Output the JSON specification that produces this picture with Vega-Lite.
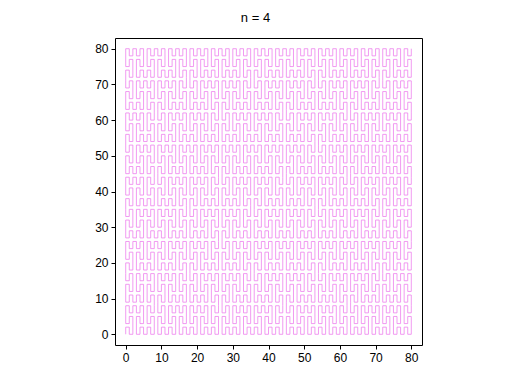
{
  "$schema": "https://vega.github.io/schema/vega-lite/v6.json",
  "autosize": "none",
  "width": 307,
  "height": 307,
  "padding": {"left": 115, "top": 38, "right": 90, "bottom": 39},
  "background": "white",
  "title": {"text": "n = 4", "font": "Liberation Sans", "fontSize": 13, "fontWeight": "normal", "color": "black", "anchor": "middle", "frame": "group", "baseline": "alphabetic", "offset": 16, "dx": -13, "dy": 13},
  "config": {
    "view": {"stroke": "black", "strokeWidth": 1},
    "axis": {"grid": false, "domain": false, "labelFont": "Liberation Sans", "labelFontSize": 12, "labelColor": "black", "tickColor": "black", "tickSize": 4, "labelPadding": 3, "title": null}
  },
  "data": {
    "format": {"type": "csv", "parse": {"x": "number", "y": "number"}},
    "values": "x,y\n0,0\n0,2\n1,0\n2,5\n1,3\n0,8\n1,6\n2,8\n3,6\n4,8\n5,3\n4,5\n3,0\n4,2\n5,0\n6,2\n7,0\n8,5\n7,3\n6,8\n7,6\n8,8\n8,11\n7,9\n6,14\n7,12\n8,17\n7,15\n6,17\n5,15\n4,17\n3,12\n4,14\n5,9\n4,11\n3,9\n2,11\n1,9\n0,14\n1,12\n2,17\n1,15\n0,17\n0,20\n1,18\n2,23\n1,21\n0,26\n1,24\n2,26\n3,24\n4,26\n5,21\n4,23\n3,18\n4,20\n5,18\n6,20\n7,18\n8,23\n7,21\n6,26\n7,24\n8,26\n9,24\n10,26\n11,21\n10,23\n9,18\n10,20\n11,18\n12,20\n13,18\n14,23\n13,21\n12,26\n13,24\n14,26\n15,24\n16,26\n17,21\n16,23\n15,18\n16,20\n17,18\n17,15\n16,17\n15,12\n16,14\n17,9\n16,11\n15,9\n14,11\n13,9\n12,14\n13,12\n14,17\n13,15\n12,17\n11,15\n10,17\n9,12\n10,14\n11,9\n10,11\n9,9\n9,6\n10,8\n11,3\n10,5\n9,0\n10,2\n11,0\n12,2\n13,0\n14,5\n13,3\n12,8\n13,6\n14,8\n15,6\n16,8\n17,3\n16,5\n15,0\n16,2\n17,0\n18,2\n19,0\n20,5\n19,3\n18,8\n19,6\n20,8\n21,6\n22,8\n23,3\n22,5\n21,0\n22,2\n23,0\n24,2\n25,0\n26,5\n25,3\n24,8\n25,6\n26,8\n26,11\n25,9\n24,14\n25,12\n26,17\n25,15\n24,17\n23,15\n22,17\n21,12\n22,14\n23,9\n22,11\n21,9\n20,11\n19,9\n18,14\n19,12\n20,17\n19,15\n18,17\n18,20\n19,18\n20,23\n19,21\n18,26\n19,24\n20,26\n21,24\n22,26\n23,21\n22,23\n21,18\n22,20\n23,18\n24,20\n25,18\n26,23\n25,21\n24,26\n25,24\n26,26\n26,29\n25,27\n24,32\n25,30\n26,35\n25,33\n24,35\n23,33\n22,35\n21,30\n22,32\n23,27\n22,29\n21,27\n20,29\n19,27\n18,32\n19,30\n20,35\n19,33\n18,35\n18,38\n19,36\n20,41\n19,39\n18,44\n19,42\n20,44\n21,42\n22,44\n23,39\n22,41\n21,36\n22,38\n23,36\n24,38\n25,36\n26,41\n25,39\n24,44\n25,42\n26,44\n26,47\n25,45\n24,50\n25,48\n26,53\n25,51\n24,53\n23,51\n22,53\n21,48\n22,50\n23,45\n22,47\n21,45\n20,47\n19,45\n18,50\n19,48\n20,53\n19,51\n18,53\n17,51\n16,53\n15,48\n16,50\n17,45\n16,47\n15,45\n14,47\n13,45\n12,50\n13,48\n14,53\n13,51\n12,53\n11,51\n10,53\n9,48\n10,50\n11,45\n10,47\n9,45\n9,42\n10,44\n11,39\n10,41\n9,36\n10,38\n11,36\n12,38\n13,36\n14,41\n13,39\n12,44\n13,42\n14,44\n15,42\n16,44\n17,39\n16,41\n15,36\n16,38\n17,36\n17,33\n16,35\n15,30\n16,32\n17,27\n16,29\n15,27\n14,29\n13,27\n12,32\n13,30\n14,35\n13,33\n12,35\n11,33\n10,35\n9,30\n10,32\n11,27\n10,29\n9,27\n8,29\n7,27\n6,32\n7,30\n8,35\n7,33\n6,35\n5,33\n4,35\n3,30\n4,32\n5,27\n4,29\n3,27\n2,29\n1,27\n0,32\n1,30\n2,35\n1,33\n0,35\n0,38\n1,36\n2,41\n1,39\n0,44\n1,42\n2,44\n3,42\n4,44\n5,39\n4,41\n3,36\n4,38\n5,36\n6,38\n7,36\n8,41\n7,39\n6,44\n7,42\n8,44\n8,47\n7,45\n6,50\n7,48\n8,53\n7,51\n6,53\n5,51\n4,53\n3,48\n4,50\n5,45\n4,47\n3,45\n2,47\n1,45\n0,50\n1,48\n2,53\n1,51\n0,53\n0,56\n1,54\n2,59\n1,57\n0,62\n1,60\n2,62\n3,60\n4,62\n5,57\n4,59\n3,54\n4,56\n5,54\n6,56\n7,54\n8,59\n7,57\n6,62\n7,60\n8,62\n8,65\n7,63\n6,68\n7,66\n8,71\n7,69\n6,71\n5,69\n4,71\n3,66\n4,68\n5,63\n4,65\n3,63\n2,65\n1,63\n0,68\n1,66\n2,71\n1,69\n0,71\n0,74\n1,72\n2,77\n1,75\n0,80\n1,78\n2,80\n3,78\n4,80\n5,75\n4,77\n3,72\n4,74\n5,72\n6,74\n7,72\n8,77\n7,75\n6,80\n7,78\n8,80\n9,78\n10,80\n11,75\n10,77\n9,72\n10,74\n11,72\n12,74\n13,72\n14,77\n13,75\n12,80\n13,78\n14,80\n15,78\n16,80\n17,75\n16,77\n15,72\n16,74\n17,72\n17,69\n16,71\n15,66\n16,68\n17,63\n16,65\n15,63\n14,65\n13,63\n12,68\n13,66\n14,71\n13,69\n12,71\n11,69\n10,71\n9,66\n10,68\n11,63\n10,65\n9,63\n9,60\n10,62\n11,57\n10,59\n9,54\n10,56\n11,54\n12,56\n13,54\n14,59\n13,57\n12,62\n13,60\n14,62\n15,60\n16,62\n17,57\n16,59\n15,54\n16,56\n17,54\n18,56\n19,54\n20,59\n19,57\n18,62\n19,60\n20,62\n21,60\n22,62\n23,57\n22,59\n21,54\n22,56\n23,54\n24,56\n25,54\n26,59\n25,57\n24,62\n25,60\n26,62\n26,65\n25,63\n24,68\n25,66\n26,71\n25,69\n24,71\n23,69\n22,71\n21,66\n22,68\n23,63\n22,65\n21,63\n20,65\n19,63\n18,68\n19,66\n20,71\n19,69\n18,71\n18,74\n19,72\n20,77\n19,75\n18,80\n19,78\n20,80\n21,78\n22,80\n23,75\n22,77\n21,72\n22,74\n23,72\n24,74\n25,72\n26,77\n25,75\n24,80\n25,78\n26,80\n27,78\n28,80\n29,75\n28,77\n27,72\n28,74\n29,72\n30,74\n31,72\n32,77\n31,75\n30,80\n31,78\n32,80\n33,78\n34,80\n35,75\n34,77\n33,72\n34,74\n35,72\n35,69\n34,71\n33,66\n34,68\n35,63\n34,65\n33,63\n32,65\n31,63\n30,68\n31,66\n32,71\n31,69\n30,71\n29,69\n28,71\n27,66\n28,68\n29,63\n28,65\n27,63\n27,60\n28,62\n29,57\n28,59\n27,54\n28,56\n29,54\n30,56\n31,54\n32,59\n31,57\n30,62\n31,60\n32,62\n33,60\n34,62\n35,57\n34,59\n33,54\n34,56\n35,54\n36,56\n37,54\n38,59\n37,57\n36,62\n37,60\n38,62\n39,60\n40,62\n41,57\n40,59\n39,54\n40,56\n41,54\n42,56\n43,54\n44,59\n43,57\n42,62\n43,60\n44,62\n44,65\n43,63\n42,68\n43,66\n44,71\n43,69\n42,71\n41,69\n40,71\n39,66\n40,68\n41,63\n40,65\n39,63\n38,65\n37,63\n36,68\n37,66\n38,71\n37,69\n36,71\n36,74\n37,72\n38,77\n37,75\n36,80\n37,78\n38,80\n39,78\n40,80\n41,75\n40,77\n39,72\n40,74\n41,72\n42,74\n43,72\n44,77\n43,75\n42,80\n43,78\n44,80\n45,78\n46,80\n47,75\n46,77\n45,72\n46,74\n47,72\n48,74\n49,72\n50,77\n49,75\n48,80\n49,78\n50,80\n51,78\n52,80\n53,75\n52,77\n51,72\n52,74\n53,72\n53,69\n52,71\n51,66\n52,68\n53,63\n52,65\n51,63\n50,65\n49,63\n48,68\n49,66\n50,71\n49,69\n48,71\n47,69\n46,71\n45,66\n46,68\n47,63\n46,65\n45,63\n45,60\n46,62\n47,57\n46,59\n45,54\n46,56\n47,54\n48,56\n49,54\n50,59\n49,57\n48,62\n49,60\n50,62\n51,60\n52,62\n53,57\n52,59\n51,54\n52,56\n53,54\n53,51\n52,53\n51,48\n52,50\n53,45\n52,47\n51,45\n50,47\n49,45\n48,50\n49,48\n50,53\n49,51\n48,53\n47,51\n46,53\n45,48\n46,50\n47,45\n46,47\n45,45\n45,42\n46,44\n47,39\n46,41\n45,36\n46,38\n47,36\n48,38\n49,36\n50,41\n49,39\n48,44\n49,42\n50,44\n51,42\n52,44\n53,39\n52,41\n51,36\n52,38\n53,36\n53,33\n52,35\n51,30\n52,32\n53,27\n52,29\n51,27\n50,29\n49,27\n48,32\n49,30\n50,35\n49,33\n48,35\n47,33\n46,35\n45,30\n46,32\n47,27\n46,29\n45,27\n44,29\n43,27\n42,32\n43,30\n44,35\n43,33\n42,35\n41,33\n40,35\n39,30\n40,32\n41,27\n40,29\n39,27\n38,29\n37,27\n36,32\n37,30\n38,35\n37,33\n36,35\n36,38\n37,36\n38,41\n37,39\n36,44\n37,42\n38,44\n39,42\n40,44\n41,39\n40,41\n39,36\n40,38\n41,36\n42,38\n43,36\n44,41\n43,39\n42,44\n43,42\n44,44\n44,47\n43,45\n42,50\n43,48\n44,53\n43,51\n42,53\n41,51\n40,53\n39,48\n40,50\n41,45\n40,47\n39,45\n38,47\n37,45\n36,50\n37,48\n38,53\n37,51\n36,53\n35,51\n34,53\n33,48\n34,50\n35,45\n34,47\n33,45\n32,47\n31,45\n30,50\n31,48\n32,53\n31,51\n30,53\n29,51\n28,53\n27,48\n28,50\n29,45\n28,47\n27,45\n27,42\n28,44\n29,39\n28,41\n27,36\n28,38\n29,36\n30,38\n31,36\n32,41\n31,39\n30,44\n31,42\n32,44\n33,42\n34,44\n35,39\n34,41\n33,36\n34,38\n35,36\n35,33\n34,35\n33,30\n34,32\n35,27\n34,29\n33,27\n32,29\n31,27\n30,32\n31,30\n32,35\n31,33\n30,35\n29,33\n28,35\n27,30\n28,32\n29,27\n28,29\n27,27\n27,24\n28,26\n29,21\n28,23\n27,18\n28,20\n29,18\n30,20\n31,18\n32,23\n31,21\n30,26\n31,24\n32,26\n33,24\n34,26\n35,21\n34,23\n33,18\n34,20\n35,18\n35,15\n34,17\n33,12\n34,14\n35,9\n34,11\n33,9\n32,11\n31,9\n30,14\n31,12\n32,17\n31,15\n30,17\n29,15\n28,17\n27,12\n28,14\n29,9\n28,11\n27,9\n27,6\n28,8\n29,3\n28,5\n27,0\n28,2\n29,0\n30,2\n31,0\n32,5\n31,3\n30,8\n31,6\n32,8\n33,6\n34,8\n35,3\n34,5\n33,0\n34,2\n35,0\n36,2\n37,0\n38,5\n37,3\n36,8\n37,6\n38,8\n39,6\n40,8\n41,3\n40,5\n39,0\n40,2\n41,0\n42,2\n43,0\n44,5\n43,3\n42,8\n43,6\n44,8\n44,11\n43,9\n42,14\n43,12\n44,17\n43,15\n42,17\n41,15\n40,17\n39,12\n40,14\n41,9\n40,11\n39,9\n38,11\n37,9\n36,14\n37,12\n38,17\n37,15\n36,17\n36,20\n37,18\n38,23\n37,21\n36,26\n37,24\n38,26\n39,24\n40,26\n41,21\n40,23\n39,18\n40,20\n41,18\n42,20\n43,18\n44,23\n43,21\n42,26\n43,24\n44,26\n45,24\n46,26\n47,21\n46,23\n45,18\n46,20\n47,18\n48,20\n49,18\n50,23\n49,21\n48,26\n49,24\n50,26\n51,24\n52,26\n53,21\n52,23\n51,18\n52,20\n53,18\n53,15\n52,17\n51,12\n52,14\n53,9\n52,11\n51,9\n50,11\n49,9\n48,14\n49,12\n50,17\n49,15\n48,17\n47,15\n46,17\n45,12\n46,14\n47,9\n46,11\n45,9\n45,6\n46,8\n47,3\n46,5\n45,0\n46,2\n47,0\n48,2\n49,0\n50,5\n49,3\n48,8\n49,6\n50,8\n51,6\n52,8\n53,3\n52,5\n51,0\n52,2\n53,0\n54,2\n55,0\n56,5\n55,3\n54,8\n55,6\n56,8\n57,6\n58,8\n59,3\n58,5\n57,0\n58,2\n59,0\n60,2\n61,0\n62,5\n61,3\n60,8\n61,6\n62,8\n62,11\n61,9\n60,14\n61,12\n62,17\n61,15\n60,17\n59,15\n58,17\n57,12\n58,14\n59,9\n58,11\n57,9\n56,11\n55,9\n54,14\n55,12\n56,17\n55,15\n54,17\n54,20\n55,18\n56,23\n55,21\n54,26\n55,24\n56,26\n57,24\n58,26\n59,21\n58,23\n57,18\n58,20\n59,18\n60,20\n61,18\n62,23\n61,21\n60,26\n61,24\n62,26\n63,24\n64,26\n65,21\n64,23\n63,18\n64,20\n65,18\n66,20\n67,18\n68,23\n67,21\n66,26\n67,24\n68,26\n69,24\n70,26\n71,21\n70,23\n69,18\n70,20\n71,18\n71,15\n70,17\n69,12\n70,14\n71,9\n70,11\n69,9\n68,11\n67,9\n66,14\n67,12\n68,17\n67,15\n66,17\n65,15\n64,17\n63,12\n64,14\n65,9\n64,11\n63,9\n63,6\n64,8\n65,3\n64,5\n63,0\n64,2\n65,0\n66,2\n67,0\n68,5\n67,3\n66,8\n67,6\n68,8\n69,6\n70,8\n71,3\n70,5\n69,0\n70,2\n71,0\n72,2\n73,0\n74,5\n73,3\n72,8\n73,6\n74,8\n75,6\n76,8\n77,3\n76,5\n75,0\n76,2\n77,0\n78,2\n79,0\n80,5\n79,3\n78,8\n79,6\n80,8\n80,11\n79,9\n78,14\n79,12\n80,17\n79,15\n78,17\n77,15\n76,17\n75,12\n76,14\n77,9\n76,11\n75,9\n74,11\n73,9\n72,14\n73,12\n74,17\n73,15\n72,17\n72,20\n73,18\n74,23\n73,21\n72,26\n73,24\n74,26\n75,24\n76,26\n77,21\n76,23\n75,18\n76,20\n77,18\n78,20\n79,18\n80,23\n79,21\n78,26\n79,24\n80,26\n80,29\n79,27\n78,32\n79,30\n80,35\n79,33\n78,35\n77,33\n76,35\n75,30\n76,32\n77,27\n76,29\n75,27\n74,29\n73,27\n72,32\n73,30\n74,35\n73,33\n72,35\n72,38\n73,36\n74,41\n73,39\n72,44\n73,42\n74,44\n75,42\n76,44\n77,39\n76,41\n75,36\n76,38\n77,36\n78,38\n79,36\n80,41\n79,39\n78,44\n79,42\n80,44\n80,47\n79,45\n78,50\n79,48\n80,53\n79,51\n78,53\n77,51\n76,53\n75,48\n76,50\n77,45\n76,47\n75,45\n74,47\n73,45\n72,50\n73,48\n74,53\n73,51\n72,53\n71,51\n70,53\n69,48\n70,50\n71,45\n70,47\n69,45\n68,47\n67,45\n66,50\n67,48\n68,53\n67,51\n66,53\n65,51\n64,53\n63,48\n64,50\n65,45\n64,47\n63,45\n63,42\n64,44\n65,39\n64,41\n63,36\n64,38\n65,36\n66,38\n67,36\n68,41\n67,39\n66,44\n67,42\n68,44\n69,42\n70,44\n71,39\n70,41\n69,36\n70,38\n71,36\n71,33\n70,35\n69,30\n70,32\n71,27\n70,29\n69,27\n68,29\n67,27\n66,32\n67,30\n68,35\n67,33\n66,35\n65,33\n64,35\n63,30\n64,32\n65,27\n64,29\n63,27\n62,29\n61,27\n60,32\n61,30\n62,35\n61,33\n60,35\n59,33\n58,35\n57,30\n58,32\n59,27\n58,29\n57,27\n56,29\n55,27\n54,32\n55,30\n56,35\n55,33\n54,35\n54,38\n55,36\n56,41\n55,39\n54,44\n55,42\n56,44\n57,42\n58,44\n59,39\n58,41\n57,36\n58,38\n59,36\n60,38\n61,36\n62,41\n61,39\n60,44\n61,42\n62,44\n62,47\n61,45\n60,50\n61,48\n62,53\n61,51\n60,53\n59,51\n58,53\n57,48\n58,50\n59,45\n58,47\n57,45\n56,47\n55,45\n54,50\n55,48\n56,53\n55,51\n54,53\n54,56\n55,54\n56,59\n55,57\n54,62\n55,60\n56,62\n57,60\n58,62\n59,57\n58,59\n57,54\n58,56\n59,54\n60,56\n61,54\n62,59\n61,57\n60,62\n61,60\n62,62\n62,65\n61,63\n60,68\n61,66\n62,71\n61,69\n60,71\n59,69\n58,71\n57,66\n58,68\n59,63\n58,65\n57,63\n56,65\n55,63\n54,68\n55,66\n56,71\n55,69\n54,71\n54,74\n55,72\n56,77\n55,75\n54,80\n55,78\n56,80\n57,78\n58,80\n59,75\n58,77\n57,72\n58,74\n59,72\n60,74\n61,72\n62,77\n61,75\n60,80\n61,78\n62,80\n63,78\n64,80\n65,75\n64,77\n63,72\n64,74\n65,72\n66,74\n67,72\n68,77\n67,75\n66,80\n67,78\n68,80\n69,78\n70,80\n71,75\n70,77\n69,72\n70,74\n71,72\n71,69\n70,71\n69,66\n70,68\n71,63\n70,65\n69,63\n68,65\n67,63\n66,68\n67,66\n68,71\n67,69\n66,71\n65,69\n64,71\n63,66\n64,68\n65,63\n64,65\n63,63\n63,60\n64,62\n65,57\n64,59\n63,54\n64,56\n65,54\n66,56\n67,54\n68,59\n67,57\n66,62\n67,60\n68,62\n69,60\n70,62\n71,57\n70,59\n69,54\n70,56\n71,54\n72,56\n73,54\n74,59\n73,57\n72,62\n73,60\n74,62\n75,60\n76,62\n77,57\n76,59\n75,54\n76,56\n77,54\n78,56\n79,54\n80,59\n79,57\n78,62\n79,60\n80,62\n80,65\n79,63\n78,68\n79,66\n80,71\n79,69\n78,71\n77,69\n76,71\n75,66\n76,68\n77,63\n76,65\n75,63\n74,65\n73,63\n72,68\n73,66\n74,71\n73,69\n72,71\n72,74\n73,72\n74,77\n73,75\n72,80\n73,78\n74,80\n75,78\n76,80\n77,75\n76,77\n75,72\n76,74\n77,72\n78,74\n79,72\n80,77\n79,75\n78,80\n79,78\n80,80"
  },
  "mark": {"type": "line", "interpolate": "step-after", "color": "#ee82ee", "strokeWidth": 0.8, "strokeCap": "butt", "strokeJoin": "miter"},
  "encoding": {
    "x": {"field": "x", "type": "quantitative", "scale": {"domain": [-3, 83], "nice": false, "zero": false}, "axis": {"values": [0, 10, 20, 30, 40, 50, 60, 70, 80]}},
    "y": {"field": "y", "type": "quantitative", "scale": {"domain": [-3, 83], "nice": false, "zero": false}, "axis": {"values": [0, 10, 20, 30, 40, 50, 60, 70, 80]}},
    "order": {"value": null}
  }
}
